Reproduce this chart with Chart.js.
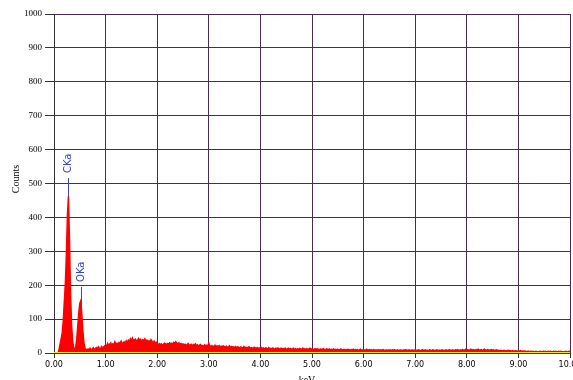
<!DOCTYPE html>
<html>
<head>
<meta charset="utf-8">
<script src="https://cdn.jsdelivr.net/npm/chart.js@4.4.1/dist/chart.umd.min.js"></script>
<style>
  html, body { margin: 0; padding: 0; background: #fff; }
  canvas { display: block; }
</style>
</head>
<body>
<canvas id="spectrum" width="573" height="380"></canvas>
<script>
// EDS spectrum: counts per 0.02 keV channel, starting at 0.00 keV
const channelStartKeV = 0.0;
const channelWidthKeV = 0.02;
const counts = [
  0,0,0,0,0, 12,28,42,60,96, 150,205,290,405,462, 330,180,85,38,16, 9,18,40,78,118, 146,154,112,64,30, 15,11,
  9,12,8,14,11, 10,15,9,13,16, 12,18,14,11,19, 15,17,21,
  24,19,28,22,26, 30,21,27,25,33, 26,29,24,31,28, 35,27,30,33,29, 36,31,38,34,42,
  37,44,35,39,41, 33,38,43,36,40, 34,39,37,42,35, 38,33,36,31,39, 34,30,35,29,32,
  26,24,28,25,27, 23,26,29,27,25, 28,26,30,27,29, 26,31,28,33,29, 27,30,26,28,25,
  27,24,26,23,25, 28,22,24,26,21, 25,23,27,22,24, 20,23,25,21,22, 19,24,21,23,20,
  28,21,19,22,18, 20,23,17,21,19, 22,18,20,17,21, 19,16,20,18,17, 21,16,19,17,18,
  16,19,15,18,17, 14,18,16,15,19, 14,17,15,16,18, 13,16,15,14,17, 15,13,16,14,15,
  14,16,13,15,12, 15,14,11,16,13, 14,12,15,13,11, 14,12,15,13,12, 14,11,13,12,14,
  12,11,14,12,13, 10,12,14,11,13, 10,12,11,13,12, 10,14,11,12,10, 13,11,12,14,11,
  12,10,11,13,10, 12,11,9,12,10, 11,13,10,9,12, 11,10,12,9,11, 10,12,9,11,10,
  11,9,10,12,9, 10,11,8,10,9, 11,10,8,10,9, 11,8,10,9,10, 8,9,11,8,9,
  10,8,9,11,8, 9,10,8,9,7, 10,8,9,8,10, 7,9,8,9,10, 7,8,9,8,9,
  8,9,7,9,8, 10,7,8,9,7, 8,9,8,7,9, 8,10,7,8,9, 7,8,9,8,7,
  9,8,7,9,8, 7,8,10,7,8, 9,7,8,7,9, 8,7,9,8,7, 8,9,7,8,8,
  7,9,8,7,8, 9,7,8,10,7, 8,9,8,7,9, 8,10,8,7,9, 8,10,8,9,11,
  9,10,8,9,11, 8,10,9,8,10, 9,11,8,9,10, 8,9,11,9,8, 10,9,8,9,10,
  8,9,7,8,9, 7,8,6,8,7, 6,8,7,6,7, 8,6,7,5,7, 6,5,7,6,5,
  6,5,7,5,6, 5,6,5,4,5, 5,4,5,4,5, 4,4,5,4,3, 4,5,4,4,5,
  4,5,4,4,5, 4,5,4,4,5, 4,5,4,4,5, 4,5,4,4,3, 4,5,4,4,5, 4
];

// baseline trace along zero
const baselineKeV = [0, 10];
const baselineCounts = [0, 0];

// identified lines
const lineNames = ['CKa', 'OKa'];
const lineKeV = [0.277, 0.525];
const lineTopCounts = [516, 195];

const xTicks = [0, 1, 2, 3, 4, 5, 6, 7, 8, 9, 10];
const yTicks = [0, 100, 200, 300, 400, 500, 600, 700, 800, 900, 1000];

const spectrumPoints = counts.map((c, i) => ({ x: channelStartKeV + i * channelWidthKeV, y: c }));
const baselinePoints = baselineKeV.map((e, i) => ({ x: e, y: baselineCounts[i] }));

const gridColor = '#4a2a5a';
const markerColor = '#3a44c8';

const annotations = {
  id: 'annotations',
  beforeDatasetsDraw(chart) {
    const { ctx, scales: { x, y } } = chart;
    ctx.save();
    ctx.strokeStyle = markerColor;
    ctx.lineWidth = 1;
    lineKeV.forEach((e, i) => {
      const px = Math.round(x.getPixelForValue(e)) + 0.5;
      ctx.beginPath();
      ctx.moveTo(px, y.getPixelForValue(0));
      ctx.lineTo(px, y.getPixelForValue(lineTopCounts[i]));
      ctx.stroke();
    });
    ctx.restore();
  },
  afterDraw(chart) {
    const { ctx, scales: { x, y } } = chart;
    ctx.save();
    ctx.fillStyle = markerColor;
    ctx.font = '10px "DejaVu Sans"';
    ctx.textAlign = 'left';
    ctx.textBaseline = 'middle';
    lineKeV.forEach((e, i) => {
      const px = x.getPixelForValue(e);
      const py = y.getPixelForValue(lineTopCounts[i]) - 5;
      ctx.save();
      ctx.translate(px + 0.5, py);
      ctx.rotate(-Math.PI / 2);
      ctx.fillText(lineNames[i], 0, 0);
      ctx.restore();
    });

    // axis titles
    ctx.fillStyle = '#000';
    ctx.font = '10px "Liberation Serif"';
    ctx.textAlign = 'center';
    ctx.textBaseline = 'middle';
    ctx.save();
    ctx.translate(16, 179);
    ctx.rotate(-Math.PI / 2);
    ctx.fillText('Counts', 0, 0);
    ctx.restore();
    ctx.textBaseline = 'top';
    ctx.fillText('keV', 307, 375);
    ctx.restore();
  }
};

new Chart(document.getElementById('spectrum'), {
  type: 'line',
  data: {
    datasets: [
      {
        data: spectrumPoints,
        borderColor: '#ff0000',
        backgroundColor: '#ff0000',
        borderWidth: 1.5,
        fill: 'origin',
        pointRadius: 0,
        tension: 0,
        order: 2
      },
      {
        data: baselinePoints,
        borderColor: '#f5e800',
        borderWidth: 2,
        fill: false,
        pointRadius: 0,
        order: 1
      }
    ]
  },
  options: {
    responsive: false,
    animation: false,
    events: [],
    layout: { padding: { top: 14, right: 3, left: 0, bottom: 0 } },
    plugins: { legend: { display: false }, tooltip: { enabled: false } },
    scales: {
      x: {
        type: 'linear',
        min: 0,
        max: 10,
        afterBuildTicks(scale) { scale.ticks = xTicks.map(v => ({ value: v })); },
        afterFit(scale) { scale.height = 27; scale.paddingLeft = 0; scale.paddingRight = 0; },
        grid: { color: gridColor, lineWidth: 1, tickLength: 5, tickColor: '#333' },
        border: { display: true, color: '#333' },
        ticks: {
          color: '#000',
          padding: 2,
          maxRotation: 0,
          autoSkip: false,
          font: { family: 'DejaVu Sans', size: 8 },
          callback: v => v.toFixed(2)
        }
      },
      y: {
        min: 0,
        max: 1000,
        afterBuildTicks(scale) { scale.ticks = yTicks.map(v => ({ value: v })); },
        afterFit(scale) { scale.width = 54; scale.paddingTop = 0; scale.paddingBottom = 0; },
        grid: { color: gridColor, lineWidth: 1, tickLength: 9, tickColor: '#333' },
        border: { display: true, color: '#333' },
        ticks: {
          color: '#000',
          padding: 3,
          autoSkip: false,
          font: { family: 'Liberation Serif', size: 9 },
          callback: v => String(v)
        }
      }
    }
  },
  plugins: [annotations]
});
</script>
</body>
</html>
